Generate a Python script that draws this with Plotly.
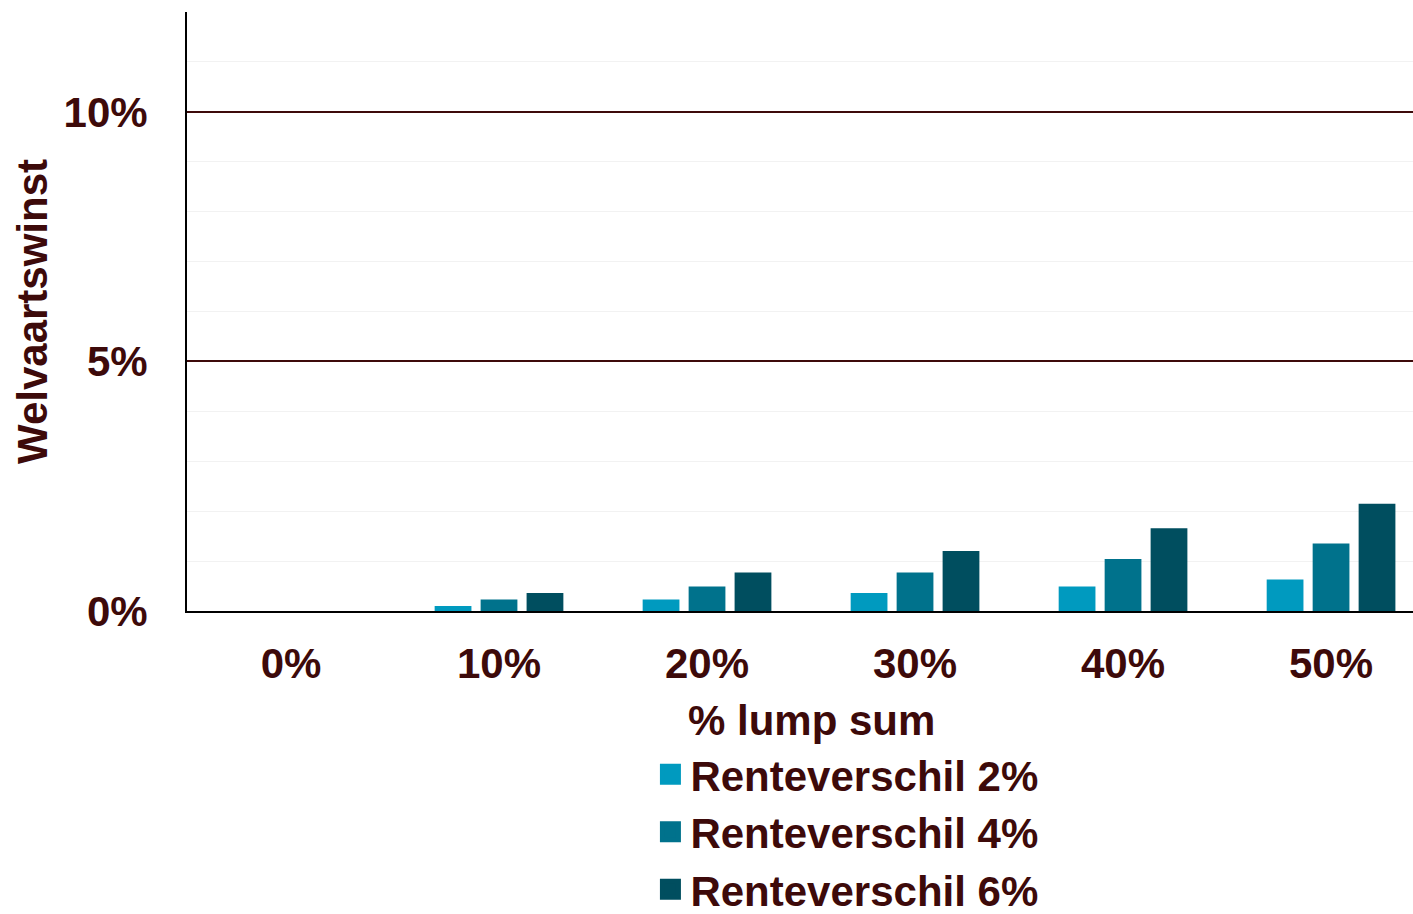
import plotly.graph_objects as go

categories = ["0%", "10%", "20%", "30%", "40%", "50%"]
series_names = ["Renteverschil 2%", "Renteverschil 4%", "Renteverschil 6%"]
rv2 = [0.0, 0.10, 0.23, 0.36, 0.49, 0.63]
rv4 = [0.0, 0.23, 0.49, 0.77, 1.04, 1.35]
rv6 = [0.0, 0.36, 0.77, 1.20, 1.66, 2.15]
colors = ["#009ABF", "#00728C", "#004E5F"]

ytick_vals = [0, 5, 10]
ytick_text = ["0%", "5%", "10%"]
x_title = "% lump sum"
y_title = "Welvaartswinst"

TXT = "#3D0A0A"
FONT = "Liberation Sans, Arial, sans-serif"

fig = go.Figure()
for name, vals, col in zip(series_names, [rv2, rv4, rv6], colors):
    fig.add_trace(go.Bar(x=categories, y=vals, name=name, marker_color=col,
                         marker_line_width=0, showlegend=False))
# legend entries with larger square symbols
for name, col in zip(series_names, colors):
    fig.add_trace(go.Scatter(x=[None], y=[None], mode="markers", name=name,
                             legendgroup=name,
                             marker=dict(symbol="square", size=16, color=col,
                                         line=dict(color=col, width=5))))

fig.update_layout(
    width=1413, height=914,
    margin=dict(l=187, r=0, t=12, b=303),
    paper_bgcolor="white", plot_bgcolor="white",
    barmode="group", bargap=0.337, bargroupgap=0.2,
    font=dict(family=FONT, color=TXT, size=42, weight="bold"),
    legend=dict(x=0.378, y=0.19, xref="paper", yref="container",
                xanchor="left", yanchor="top",
                orientation="v", tracegroupgap=0, itemsizing="trace",
                bgcolor="rgba(0,0,0,0)",
                font=dict(family=FONT, size=42, color=TXT, weight="bold")),
    showlegend=True,
)
# x-axis title (centered on the full category extent, which runs past the right edge)
fig.add_annotation(text=x_title, xref="paper", yref="paper", x=0.509, y=-0.182,
                   xanchor="center", yanchor="middle", showarrow=False,
                   font=dict(family=FONT, size=42, color=TXT, weight="bold"))
fig.update_xaxes(
    type="category", range=[-0.5, 5.394],
    showline=True, linecolor="black", linewidth=2, showgrid=False,
    ticks="outside", ticklen=15, tickcolor="rgba(0,0,0,0)",
    tickfont=dict(family=FONT, size=42, color=TXT, weight="bold"),
    automargin=False,
)
fig.update_yaxes(
    range=[0, 12], tickvals=ytick_vals, ticktext=ytick_text,
    showline=True, linecolor="black", linewidth=2,
    showgrid=True, gridcolor=TXT, gridwidth=1.5, zeroline=False,
    ticks="outside", ticklen=29, tickcolor="rgba(0,0,0,0)",
    tickfont=dict(family=FONT, size=42, color=TXT, weight="bold"),
    minor=dict(dtick=1, showgrid=True, gridcolor="#F2F2F2", gridwidth=1),
    title=dict(text=y_title, standoff=3,
               font=dict(family=FONT, size=42, color=TXT, weight="bold")),
    automargin=False,
)

fig.write_html("out.html", config={"displayModeBar": False},
               post_script="document.body.style.margin='0';document.body.style.overflow='hidden';")
